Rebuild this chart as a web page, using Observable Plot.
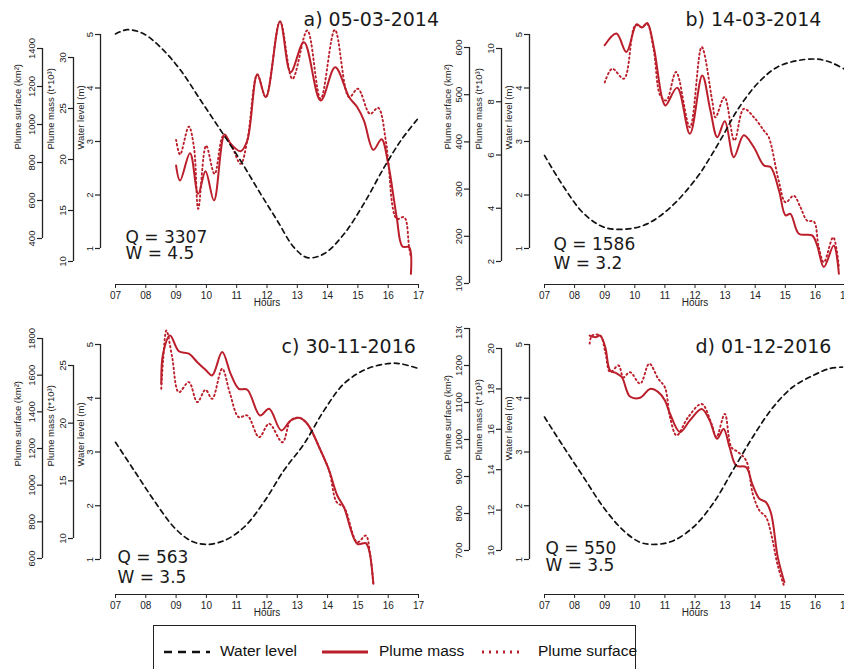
<!DOCTYPE html>
<html><head><meta charset="utf-8">
<script src="https://cdn.jsdelivr.net/npm/d3@7"></script>
<script src="https://cdn.jsdelivr.net/npm/@observablehq/plot@0.6"></script>
<style>
html,body{margin:0;padding:0;background:#fff;}
#root{position:relative;width:844px;height:669px;overflow:hidden;font-family:"Liberation Sans",Arial,sans-serif;}
.panel{position:absolute;overflow:hidden;}
.panel svg{position:absolute;left:0;top:0;}
#legend{position:absolute;left:153px;top:625px;width:483px;height:60px;border:1.5px solid #222;box-sizing:border-box;}
#legend .lab{position:absolute;top:16px;font-size:15.5px;color:#111;white-space:nowrap;}
#legend svg{position:absolute;top:20px;}
</style></head>
<body><div id="root"><div id="legend"></div></div>
<script>
// ---------- tick labels ----------
const hourTicks = [7, 8, 9, 10, 11, 12, 13, 14, 15, 16, 17];
const waterTicks = [1, 2, 3, 4, 5];
const aSurfTicks = [400, 600, 800, 1000, 1200, 1400];
const aMassTicks = [10, 15, 20, 25, 30];
const bSurfTicks = [100, 200, 300, 400, 500, 600];
const bMassTicks = [2, 4, 6, 8, 10];
const cSurfTicks = [600, 800, 1000, 1200, 1400, 1600, 1800];
const cMassTicks = [10, 15, 20, 25];
const dSurfTicks = [700, 800, 900, 1000, 1100, 1200, 1300];
const dMassTicks = [10, 12, 14, 16, 18, 20];

const panelTitles = ["a) 05-03-2014", "b) 14-03-2014", "c) 30-11-2016", "d) 01-12-2016"];
const panelQ = [3307, 1586, 563, 550];
const panelW = [4.5, 3.2, 3.5, 3.5];
const seriesNames = ["Water level", "Plume mass", "Plume surface"];
const axisTitles = ["Plume surface (km²)", "Plume mass (t*10³)", "Water level (m)"];

// ---------- panel a ----------
const aWaterHour = [7.0, 7.39, 7.94, 8.54, 9.15, 9.81, 10.47, 11.13, 11.79, 12.34, 12.89, 13.33, 13.88, 14.54, 15.2, 15.87, 16.42, 16.97];
const aWater = [5.01, 5.09, 5.01, 4.73, 4.33, 3.77, 3.21, 2.64, 2.02, 1.52, 1.02, 0.83, 0.9, 1.27, 1.84, 2.52, 3.02, 3.42];
const aMassHour = [9.0, 9.13, 9.46, 9.73, 9.97, 10.25, 10.6, 10.8, 11.13, 11.35, 11.68, 11.96, 12.43, 12.78, 13.22, 13.77, 14.25, 14.71, 14.98, 15.2, 15.51, 15.78, 16.0, 16.28, 16.47, 16.69, 16.75];
const aMass = [19.41, 17.94, 20.62, 16.63, 18.85, 15.98, 22.45, 21.54, 20.81, 21.86, 28.33, 26.11, 33.53, 28.56, 31.5, 25.78, 29.05, 26.11, 25.13, 23.82, 20.95, 21.99, 19.58, 14.34, 11.47, 11.4, 8.79];
const aSurfHour = [9.0, 9.13, 9.42, 9.59, 9.73, 9.99, 10.27, 10.56, 10.8, 11.13, 11.35, 11.68, 11.96, 12.43, 12.84, 13.33, 13.77, 14.24, 14.71, 15.0, 15.4, 15.67, 15.92, 16.0, 16.28, 16.53, 16.69, 16.75];
const aSurf = [919, 842, 989, 880, 556, 889, 740, 940, 898, 793, 916, 1263, 1144, 1542, 1240, 1495, 1135, 1498, 1144, 1188, 1056, 1088, 916, 811, 504, 512, 354, 302];

// ---------- panel b ----------
const bWaterHour = [7.0, 7.64, 8.31, 8.97, 9.69, 10.41, 11.19, 12.07, 12.51, 12.96, 13.4, 14.07, 14.73, 15.39, 16.04, 16.5, 16.94];
const bWater = [2.74, 2.15, 1.65, 1.4, 1.36, 1.46, 1.77, 2.33, 2.71, 3.14, 3.58, 4.08, 4.39, 4.51, 4.54, 4.48, 4.36];
const bMassHour = [9.0, 9.39, 9.72, 10.06, 10.24, 10.41, 10.63, 10.91, 11.02, 11.41, 11.83, 12.24, 12.51, 12.74, 12.99, 13.29, 13.62, 13.95, 14.29, 14.51, 14.79, 15.01, 15.17, 15.45, 15.89, 16.06, 16.28, 16.61, 16.78];
const bMass = [10.12, 10.56, 9.87, 10.91, 10.79, 10.96, 10.06, 8.12, 7.86, 8.53, 6.8, 8.99, 7.68, 6.67, 7.27, 5.92, 6.74, 6.3, 5.61, 5.55, 4.67, 3.73, 3.79, 3.04, 2.98, 2.6, 1.79, 2.6, 1.54];
const bSurfHour = [9.0, 9.25, 9.64, 10.02, 10.24, 10.41, 10.63, 10.85, 11.05, 11.37, 11.83, 12.22, 12.57, 12.68, 12.98, 13.31, 13.62, 13.96, 14.29, 14.45, 14.78, 15.01, 15.28, 15.5, 15.73, 15.95, 16.11, 16.28, 16.59, 16.78];
const bSurf = [526, 555, 534, 647, 643, 650, 594, 498, 488, 548, 431, 601, 488, 452, 495, 403, 470, 452, 424, 410, 318, 272, 286, 262, 233, 231, 177, 145, 198, 135];

// ---------- panel c ----------
const cWaterHour = [7.0, 7.61, 8.27, 8.93, 9.48, 9.97, 10.58, 11.24, 11.9, 12.56, 13.22, 13.88, 14.54, 15.31, 16.09, 16.42, 17.02];
const cWater = [3.18, 2.66, 2.1, 1.6, 1.35, 1.28, 1.35, 1.6, 2.07, 2.66, 3.15, 3.77, 4.27, 4.55, 4.65, 4.64, 4.55];
const cMassHour = [8.51, 8.57, 8.8, 9.09, 9.42, 9.7, 9.97, 10.19, 10.52, 10.8, 11.07, 11.35, 11.77, 12.07, 12.47, 12.78, 13.06, 13.33, 13.77, 14.05, 14.32, 14.54, 14.98, 15.26, 15.37, 15.51];
const cMass = [23.42, 26.02, 27.61, 26.24, 26.02, 25.29, 24.63, 24.14, 26.16, 24.28, 22.98, 22.9, 20.67, 21.25, 19.37, 20.23, 20.47, 19.95, 17.63, 15.9, 13.73, 12.71, 9.54, 9.6, 8.97, 6.08];
const cSurfHour = [8.51, 8.57, 8.68, 8.87, 9.09, 9.42, 9.7, 9.97, 10.19, 10.52, 10.78, 11.07, 11.35, 11.74, 12.07, 12.51, 12.78, 13.06, 13.33, 13.77, 14.05, 14.3, 14.54, 14.98, 15.26, 15.4, 15.51];
const cSurf = [1526, 1680, 1844, 1698, 1507, 1562, 1453, 1520, 1471, 1635, 1499, 1371, 1380, 1262, 1335, 1234, 1353, 1368, 1335, 1189, 1080, 907, 880, 689, 725, 626, 462];

// ---------- panel d ----------
const dWaterHour = [7.0, 7.64, 8.3, 8.96, 9.62, 10.18, 10.67, 11.28, 11.94, 12.6, 13.26, 13.92, 14.59, 15.25, 15.91, 16.46, 16.9];
const dWater = [3.65, 3.09, 2.53, 1.97, 1.54, 1.32, 1.28, 1.35, 1.6, 2.04, 2.66, 3.28, 3.83, 4.21, 4.42, 4.55, 4.58];
const dMassHour = [8.5, 8.69, 8.85, 9.02, 9.18, 9.38, 9.57, 9.84, 10.18, 10.51, 10.78, 11.0, 11.17, 11.5, 11.83, 12.22, 12.49, 12.73, 12.95, 13.15, 13.37, 13.7, 13.9, 14.14, 14.36, 14.53, 14.75, 14.97];
const dMass = [20.64, 20.56, 20.64, 20.06, 18.91, 18.78, 18.58, 17.62, 17.56, 18.0, 17.84, 17.43, 16.77, 15.86, 16.44, 17.01, 16.44, 15.53, 16.02, 15.11, 14.21, 14.12, 13.3, 12.56, 12.39, 11.82, 9.67, 8.43];
const dSurfHour = [8.5, 8.58, 8.85, 9.02, 9.18, 9.46, 9.62, 9.84, 10.18, 10.48, 10.78, 11.0, 11.17, 11.39, 11.77, 12.22, 12.55, 12.71, 12.99, 13.21, 13.43, 13.7, 13.92, 14.14, 14.36, 14.53, 14.75, 14.97];
const dSurf = [1259, 1281, 1281, 1236, 1182, 1200, 1168, 1182, 1151, 1205, 1164, 1141, 1060, 1011, 1060, 1096, 1042, 1006, 1069, 979, 966, 943, 853, 808, 790, 745, 659, 601];

// ---------- styling / layout ----------
const INK = "#222";
const RED = "#bb1f2b";
const TITLE_FONT = "DejaVu Sans, Verdana, sans-serif";
const pts = (H, V) => H.map((h, i) => ({h, v: V[i]}));
const styles = {
  water: {stroke: "#111", strokeWidth: 1.7, strokeDasharray: "5,4"},
  mass: {stroke: RED, strokeWidth: 2},
  surf: {stroke: RED, strokeWidth: 1.9, strokeDasharray: "1.4,3"}
};

const panels = [
  {ox: 0, oy: 0, w: 460, h: 316, x0: 115, x1: 418, xAxis: 284, labelY: 149,
   title: [303, 25], q: [125, 242], wy: 258,
   surf: {x: 42, top: 48, bottom: 238, domain: [400, 1400], ticks: aSurfTicks, lx: 17, data: pts(aSurfHour, aSurf)},
   mass: {x: 73, top: 57, bottom: 261, domain: [10, 30], ticks: aMassTicks, lx: 50, data: pts(aMassHour, aMass)},
   water: {x: 100, top: 34, bottom: 248, domain: [1, 5], ticks: waterTicks, lx: 80, data: pts(aWaterHour, aWater)}},
  {ox: 429, oy: 0, w: 415, h: 316, x0: 544, x1: 845, xAxis: 284, labelY: 149,
   title: [685, 25], q: [553, 249], wy: 268,
   surf: {x: 469, top: 47, bottom: 283, domain: [100, 600], ticks: bSurfTicks, lx: 447, data: pts(bSurfHour, bSurf)},
   mass: {x: 501, top: 48, bottom: 261, domain: [2, 10], ticks: bMassTicks, lx: 478, data: pts(bMassHour, bMass)},
   water: {x: 529, top: 34, bottom: 248, domain: [1, 5], ticks: waterTicks, lx: 508, data: pts(bWaterHour, bWater)}},
  {ox: 0, oy: 316, w: 460, h: 304, x0: 115, x1: 418, xAxis: 594, labelY: 466,
   title: [281, 352], q: [117, 562], wy: 582,
   surf: {x: 42, top: 338, bottom: 558, domain: [600, 1800], ticks: cSurfTicks, lx: 17, data: pts(cSurfHour, cSurf)},
   mass: {x: 73, top: 365, bottom: 538, domain: [10, 25], ticks: cMassTicks, lx: 50, data: pts(cMassHour, cMass)},
   water: {x: 100, top: 344, bottom: 559, domain: [1, 5], ticks: waterTicks, lx: 80, data: pts(cWaterHour, cWater)}},
  {ox: 429, oy: 326, w: 415, h: 294, x0: 544, x1: 845, xAxis: 594, labelY: 460,
   title: [695, 352], q: [545, 553], wy: 570,
   surf: {x: 469, top: 328, bottom: 550, domain: [700, 1300], ticks: dSurfTicks, lx: 447, data: pts(dSurfHour, dSurf)},
   mass: {x: 501, top: 348, bottom: 550, domain: [10, 20], ticks: dMassTicks, lx: 478, data: pts(dMassHour, dMass)},
   water: {x: 529, top: 344, bottom: 559, domain: [1, 5], ticks: waterTicks, lx: 508, data: pts(dWaterHour, dWater)}}
];

const baseStyle = {background: "transparent", fontFamily: "Liberation Sans, Arial, sans-serif", fontSize: "9.5px", color: INK, overflow: "visible"};

function yLayer(P, A, label, lineStyle) {
  const ml = A.x - P.ox;
  const mt = A.top - P.oy;
  const mb = P.h - (A.bottom - P.oy);
  return Plot.plot({
    width: P.w, height: P.h,
    marginLeft: ml, marginRight: P.w - ml, marginTop: mt, marginBottom: mb,
    x: {domain: [7, 17], range: [P.x0 - P.ox, P.x1 - P.ox], axis: null},
    y: {domain: A.domain},
    style: baseStyle,
    marks: [
      Plot.ruleX([0], {x: null, stroke: INK, strokeWidth: 1.3}),
      Plot.axisY({ticks: A.ticks, tickFormat: d => String(d), tickSize: 5, tickPadding: 3, tickRotate: -90, label: null, color: INK, strokeWidth: 1.2}),
      Plot.text([label], {frameAnchor: "left", rotate: -90, dx: A.lx - A.x, dy: P.labelY - (A.top + A.bottom) / 2, fill: INK, fontSize: 9.5}),
      Plot.line(A.data, {x: "h", y: "v", curve: "catmull-rom", ...lineStyle})
    ]
  });
}

function xLayer(P) {
  const mt = P.xAxis - P.oy;
  return Plot.plot({
    width: P.w, height: P.h,
    marginLeft: P.x0 - P.ox, marginRight: 0, marginTop: mt, marginBottom: P.h - mt,
    x: {domain: [7, 17], range: [P.x0 - P.ox, P.x1 - P.ox], label: null},
    style: baseStyle,
    marks: [
      Plot.ruleY([0], {y: null, x1: hourTicks[0], x2: hourTicks[hourTicks.length - 1], stroke: INK, strokeWidth: 1.2}),
      Plot.axisX({ticks: hourTicks, tickFormat: d => String(d).padStart(2, "0"), tickSize: 4, tickPadding: 3, label: null, color: INK, fontSize: 10}),
      Plot.text(["Hours"], {x: 12, frameAnchor: "bottom", dy: 21, fill: INK, fontSize: 10})
    ]
  });
}

function annotLayer(P, i) {
  const T = (t, x, y, size) => Plot.text([t], {frameAnchor: "top-left", dx: x - P.ox, dy: y - P.oy, textAnchor: "start", lineAnchor: "bottom", fontFamily: TITLE_FONT, fontSize: size, fill: "#1a1a1a"});
  return Plot.plot({
    width: P.w, height: P.h, margin: 0,
    style: baseStyle,
    marks: [
      T(panelTitles[i], P.title[0], P.title[1], 19),
      T("Q = " + panelQ[i], P.q[0], P.q[1], 17),
      T("W = " + panelW[i], P.q[0], P.wy, 17)
    ]
  });
}

const root = document.getElementById("root");
panels.forEach((P, i) => {
  const div = document.createElement("div");
  div.className = "panel";
  Object.assign(div.style, {left: P.ox + "px", top: P.oy + "px", width: P.w + "px", height: P.h + "px"});
  div.append(
    yLayer(P, P.surf, axisTitles[0], styles.surf),
    yLayer(P, P.mass, axisTitles[1], styles.mass),
    yLayer(P, P.water, axisTitles[2], styles.water),
    xLayer(P),
    annotLayer(P, i)
  );
  root.insertBefore(div, document.getElementById("legend"));
});

// ---------- legend ----------
const legend = document.getElementById("legend");
const legendItems = [
  {name: seriesNames[0], sx: 10, sw: 46, tx: 66, st: styles.water, sampleDash: "8,6", width: 2.6},
  {name: seriesNames[1], sx: 168, sw: 46, tx: 225, st: styles.mass, sampleDash: null, width: 3},
  {name: seriesNames[2], sx: 328, sw: 42, tx: 384, st: styles.surf, sampleDash: "2,5", width: 2.8}
];
const NS = "http://www.w3.org/2000/svg";
legendItems.forEach(it => {
  const svg = document.createElementNS(NS, "svg");
  svg.setAttribute("width", it.sw);
  svg.setAttribute("height", 12);
  svg.style.left = it.sx + "px";
  const ln = document.createElementNS(NS, "line");
  ln.setAttribute("x1", 0); ln.setAttribute("x2", it.sw);
  ln.setAttribute("y1", 6); ln.setAttribute("y2", 6);
  ln.setAttribute("stroke", it.st.stroke);
  ln.setAttribute("stroke-width", it.width);
  if (it.sampleDash) ln.setAttribute("stroke-dasharray", it.sampleDash);
  svg.appendChild(ln);
  legend.appendChild(svg);
  const lab = document.createElement("div");
  lab.className = "lab";
  lab.style.left = it.tx + "px";
  lab.textContent = it.name;
  legend.appendChild(lab);
});
</script>
</body></html>
